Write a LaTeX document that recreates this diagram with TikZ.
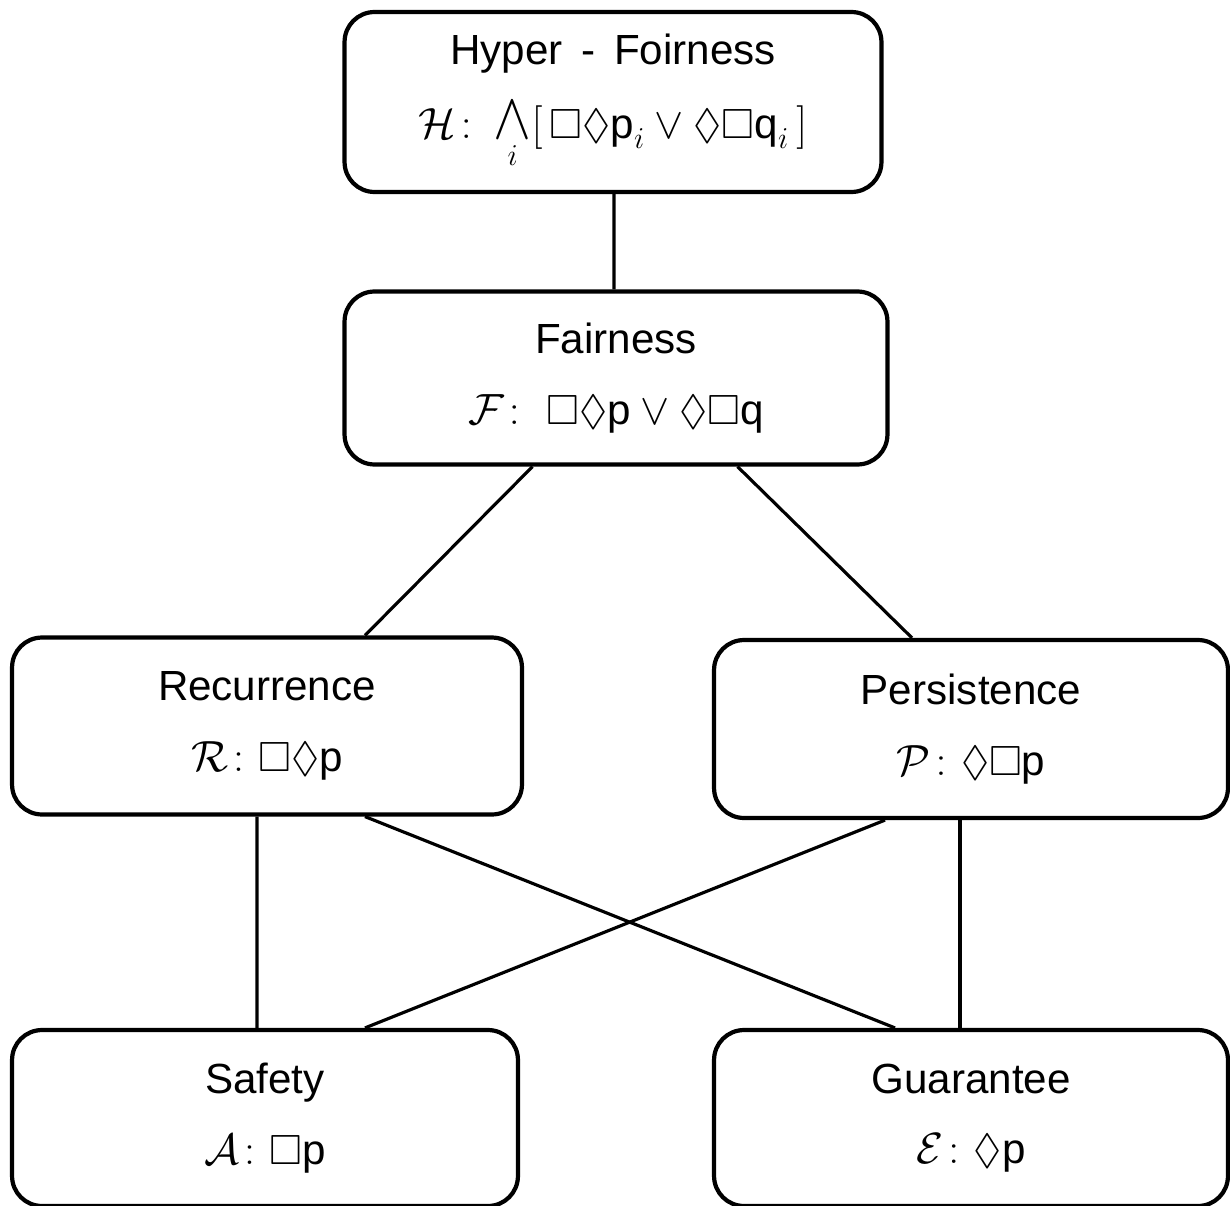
\documentclass[tikz,border=0pt]{standalone}
\usepackage{amsmath, amssymb}
\usepackage{fontspec}
\setmainfont{Liberation Sans}
\tikzset{classnode/.style={rectangle, draw=black, fill=white, line width=2.4pt,
rounded corners=0.6cm, align=center, font=\fontsize{24}{40}\selectfont},
link/.style={line width=1.8pt}}

\begin{document}
\begin{tikzpicture}[x=0.02cm, y=-0.02cm]
\useasboundingbox (0,0) rectangle (1230,1206);

%%Classes
\node[classnode, minimum width=10.74cm, minimum height=3.6cm] (hyper) at (613,102)
  {Hyper\, - \,Foirness\\[2pt] $\mathcal{H}\colon \mathop{\scalebox{1.3}[1.5]{$\wedge$}}\limits_{i} [\,\Box\Diamond \text{p}_i \vee \Diamond\Box \text{q}_i\,]$};
\node[classnode, minimum width=10.86cm, minimum height=3.46cm] (fair) at (616,378)
  {Fairness\\ $\mathcal{F}\colon\; \Box\Diamond \text{p} \vee \Diamond\Box \text{q}$};
\node[classnode, minimum width=10.2cm, minimum height=3.54cm] (rec) at (267,726)
  {Recurrence\\ $\mathcal{R}\colon \Box\Diamond \text{p}$};
\node[classnode, minimum width=10.28cm, minimum height=3.56cm] (pers) at (971,729)
  {Persistence\\ $\mathcal{P}\colon \Diamond\Box \text{p}$};
\node[classnode, minimum width=10.12cm, minimum height=3.52cm] (safe) at (265,1118)
  {Safety\\ $\mathcal{A}\colon \Box \text{p}$};
\node[classnode, minimum width=10.28cm, minimum height=3.52cm] (guar) at (971,1118)
  {Guarantee\\ $\mathcal{E}\colon \Diamond \text{p}$};

%%Inclusions
\begin{scope}[link]
\draw ([xshift=0.02cm]hyper.south) -- ([xshift=-0.04cm]fair.north);
\draw ([xshift=-1.67cm]fair.south) -- ([xshift=1.96cm]rec.north);
\draw ([xshift=2.43cm]fair.south) -- ([xshift=-1.18cm]pers.north);
\draw ([xshift=-0.2cm]rec.south) -- ([xshift=-0.16cm]safe.north);
\draw ([xshift=1.96cm]rec.south) -- ([xshift=-1.52cm]guar.north);
\draw ([xshift=-1.72cm]pers.south) -- ([xshift=2cm]safe.north);
\draw ([xshift=-0.22cm]pers.south) -- ([xshift=-0.22cm]guar.north);
\end{scope}

\end{tikzpicture}
\end{document}
